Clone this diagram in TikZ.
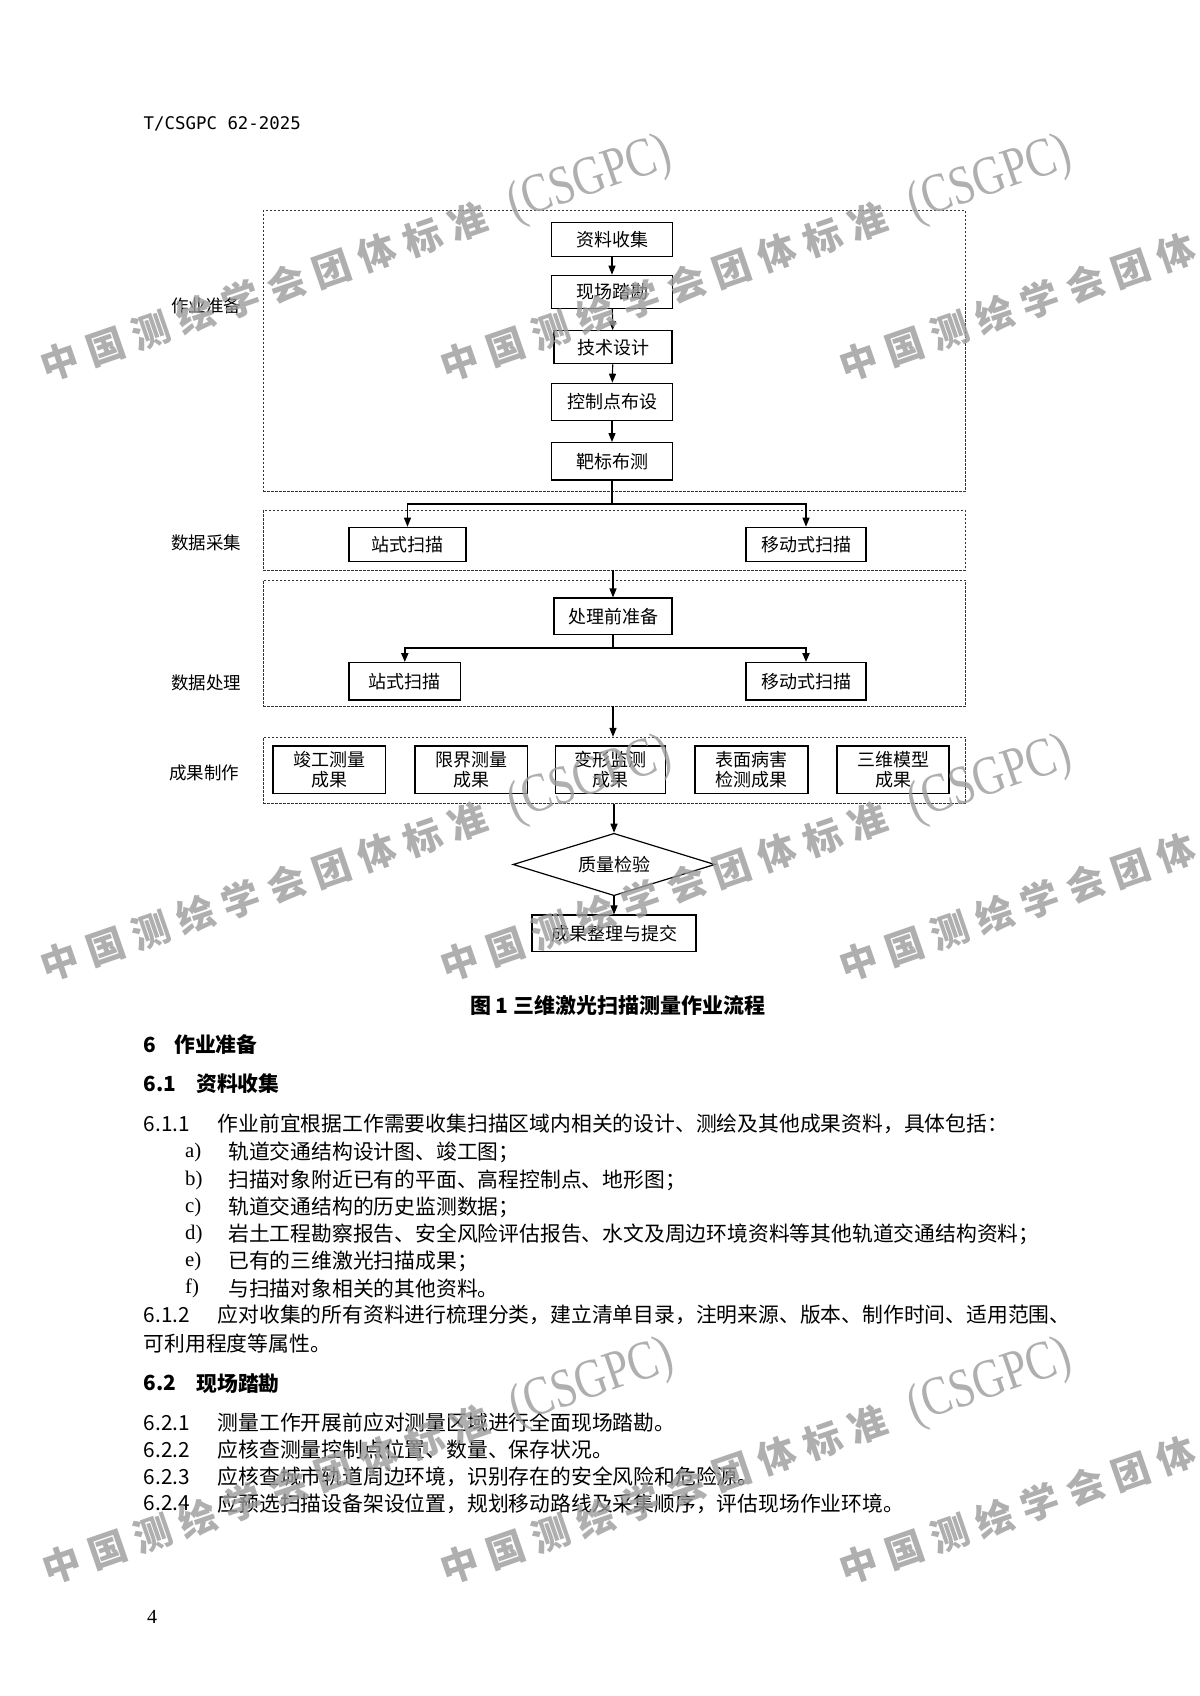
\documentclass[tikz,border=0pt]{standalone}
\usepackage{fontspec}
\setmainfont{Noto Sans CJK SC}
\newfontfamily\ser{Liberation Serif}
\newfontfamily\mono{DejaVu Sans Mono}
\newfontfamily\wmcjk{Noto Sans CJK SC}[LetterSpace=26]
\newfontfamily\wmlat{Liberation Serif}[FakeStretch=0.8]
\usetikzlibrary{shapes.geometric,arrows.meta}
\definecolor{wmgray}{RGB}{155,155,155}
\tikzset{
  bx/.style 2 args={draw=black, line width=1.2pt, inner sep=0pt, align=center,
    minimum width=#1pt, minimum height=#2pt, font=\fontsize{18}{20}\selectfont},
  grp/.style 2 args={draw=black!80, line width=0.9pt, dash pattern=on 2.5pt off 1.5pt,
    inner sep=0pt, minimum width=#1pt, minimum height=#2pt},
  lab/.style={inner sep=0pt, font=\fontsize{17.5}{20}\selectfont},
  arr/.style={line width=1.2pt, -{Triangle[length=9pt,width=7pt]}},
  ln/.style={line width=1.2pt},
  body/.style={anchor=west, inner sep=0pt, font=\fontsize{20.8}{24}\selectfont},
  head/.style={anchor=west, inner sep=0pt, font=\fontsize{20.8}{24}\selectfont\bfseries},
  wm/.style={rotate=19, anchor=base west, inner sep=0pt, text=wmgray, text opacity=0.8},
}
\begin{document}
\begin{tikzpicture}[x=1pt,y=-1pt]
\fill[white] (0,0) rectangle (1199,1696);
\useasboundingbox (0,0) rectangle (1199,1696);

% header
\node[anchor=west, inner sep=0pt, font=\mono\fontsize{17.4}{20}\selectfont] (hdr) at (143.5,124) {T/CSGPC 62-2025};

% group boxes
\node[grp={702.5}{280.2}] (g1) at (614.3,350.9) {};
\node[grp={702.5}{59.3}]  (g2) at (614.3,540.3) {};
\node[grp={702.5}{126}]   (g3) at (614.3,643) {};
\node[grp={702.5}{66}]    (g4) at (614.3,770.3) {};

% group labels
\node[lab] (l1) at (206,306) {作业准备};
\node[lab] (l2) at (206,543) {数据采集};
\node[lab] (l3) at (206,683) {数据处理};
\node[lab] (l4) at (204,772.7) {成果制作};

% stage 1
\node[bx={120.5}{34}]   (n1) at (612,239.5) {资料收集};
\node[bx={120.5}{33}]   (n2) at (612,291.8) {现场踏勘};
\node[bx={118}{33}]     (n3) at (613,347.3) {技术设计};
\node[bx={120.5}{37.4}] (n4) at (612,402) {控制点布设};
\node[bx={120.5}{37.3}] (n5) at (612,461.3) {靶标布测};
\draw[arr] (n1) -- (n2);
\draw[arr] (n2) -- (n3);
\draw[arr] (n3) -- (n4);
\draw[arr] (n4) -- (n5);

% stage 2
\coordinate (j1) at (612,504);
\node[bx={117}{34}] (s1) at (407.5,544.3) {站式扫描};
\node[bx={120}{34}] (m1) at (806,544.3) {移动式扫描};
\draw[ln] (n5.south) -- (j1);
\draw[arr] (j1) -| (s1.north);
\draw[arr] (j1) -| (m1.north);

% stage 3
\node[bx={118}{36.3}] (p0) at (613,616.2) {处理前准备};
\draw[arr] (g2.south -| p0.north) -- (p0.north);
\coordinate (j2) at (613,647.7);
\node[bx={111.7}{37.3}] (s2) at (404.8,681.3) {站式扫描};
\node[bx={120}{37.3}]   (m2) at (806,681.3) {移动式扫描};
\draw[line width=2pt] (p0.south) -- (j2);
\draw[line width=2pt, -{Triangle[length=9pt,width=7pt]}] (j2) -| (s2.north);
\draw[line width=2pt, -{Triangle[length=9pt,width=7pt]}] (j2) -| (m2.north);

% stage 4
\draw[arr] (g3.south -| p0.north) -- (g4.north -| p0.north);
\node[bx={112.7}{47.3}] (r1) at (329.4,769.7) {竣工测量\\成果};
\node[bx={112.6}{47.3}] (r2) at (471.3,769.7) {限界测量\\成果};
\node[bx={109.8}{47.3}] (r3) at (610.4,769.7) {变形监测\\成果};
\node[bx={113}{47.3}]   (r4) at (751.5,769.7) {表面病害\\检测成果};
\node[bx={112}{47.3}]   (r5) at (893,769.7) {三维模型\\成果};

% quality check
\node[draw=black, line width=1.2pt, shape=diamond, inner sep=0pt, aspect=3.2,
      minimum width=202pt, minimum height=62.4pt, font=\fontsize{18}{20}\selectfont] (q) at (614,864.5) {质量检验};
\draw[arr] (g4.south -| q.north) -- (q.north);
\node[bx={164}{36.7}] (f) at (614,933.4) {成果整理与提交};
\draw[arr] (q.south) -- (f.north);

% caption
\node[inner sep=0pt, font=\fontsize{21}{24}\selectfont\bfseries] (cap) at (617.8,1005) {图 1 三维激光扫描测量作业流程};

% text
\node[head] (h6n) at (143.5,1045) {6};
\node[head] (h6t) at (174,1045) {作业准备};
\node[head] (h61n) at (143.5,1084) {6.1};
\node[head] (h61t) at (196,1084) {资料收集};

\node[body] (t611n) at (143.5,1124) {6.1.1};
\node[body] (t611) at (217.5,1124) {作业前宜根据工作需要收集扫描区域内相关的设计、测绘及其他成果资料，具体包括：};
\node[body] (ia) at (185,1152.7) {\ser a)};
\node[body] (ta) at (228,1152.7) {轨道交通结构设计图、竣工图；};
\node[body] (ib) at (185,1180) {\ser b)};
\node[body] (tb) at (228,1180) {扫描对象附近已有的平面、高程控制点、地形图；};
\node[body] (ic) at (185,1207.3) {\ser c)};
\node[body] (tc) at (228,1207.3) {轨道交通结构的历史监测数据；};
\node[body] (id) at (185,1234) {\ser d)};
\node[body] (td) at (228,1234) {岩土工程勘察报告、安全风险评估报告、水文及周边环境资料等其他轨道交通结构资料；};
\node[body] (ie) at (185,1261.7) {\ser e)};
\node[body] (te) at (228,1261.7) {已有的三维激光扫描成果；};
\node[body] (if) at (185,1288.5) {\ser f)};
\node[body] (tf) at (228,1288.5) {与扫描对象相关的其他资料。};

\node[body] (t612n) at (143.5,1315) {6.1.2};
\node[body] (t612) at (217.5,1315) {应对收集的所有资料进行梳理分类，建立清单目录，注明来源、版本、制作时间、适用范围、};
\node[body] (t612c) at (143.5,1343.3) {可利用程度等属性。};

\node[head] (h62n) at (143.5,1383.3) {6.2};
\node[head] (h62t) at (196.3,1383.3) {现场踏勘};

\node[body] (t621n) at (143.5,1422.7) {6.2.1};
\node[body] (t621) at (217.5,1422.7) {测量工作开展前应对测量区域进行全面现场踏勘。};
\node[body] (t622n) at (143.5,1450) {6.2.2};
\node[body] (t622) at (217.5,1450) {应核查测量控制点位置、数量、保存状况。};
\node[body] (t623n) at (143.5,1476.7) {6.2.3};
\node[body] (t623) at (217.5,1476.7) {应核查城市轨道周边环境，识别存在的安全风险和危险源。};
\node[body] (t624n) at (143.5,1503.3) {6.2.4};
\node[body] (t624) at (217.5,1503.3) {应预选扫描设备架设位置，规划移动路线及采集顺序，评估现场作业环境。};

\node[anchor=west, inner sep=0pt, font=\ser\fontsize{20}{24}\selectfont] (pg) at (147,1617) {4};

% watermark
\foreach \x/\y [count=\i] in {46.7/381.8, 446.7/381.8, 845.7/381.8,
                              46.7/981.8, 446.7/981.8, 845.7/981.8,
                              48.7/1584.8, 446.7/1584.8, 845.7/1584.8}
  \node[wm] (wm\i) at (\x,\y)
    {{\wmcjk\fontsize{38}{40}\selectfont\bfseries 中国测绘学会团体标准}\hspace{26pt}{\wmlat\fontsize{55}{60}\selectfont (CSGPC)}};
\end{tikzpicture}
\end{document}
